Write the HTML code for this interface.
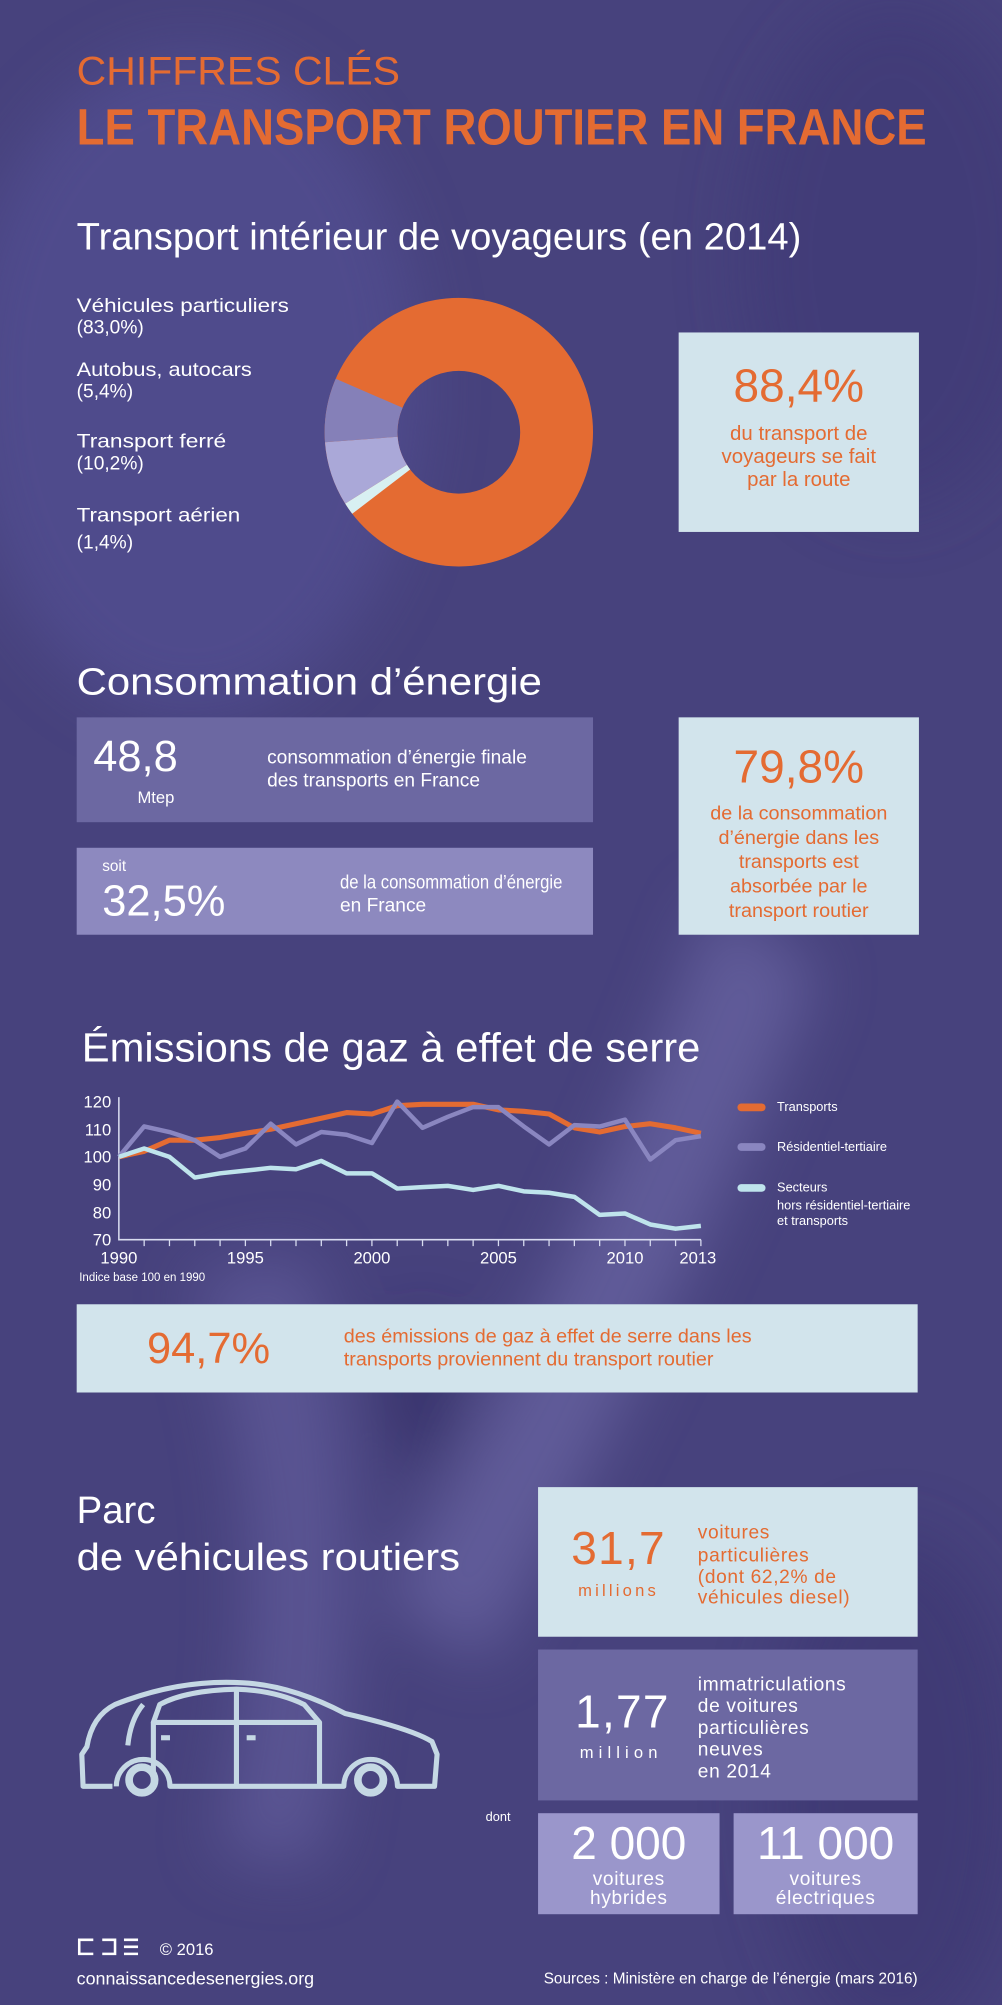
<!DOCTYPE html>
<html><head><meta charset="utf-8"><style>
html,body{margin:0;padding:0;background:#48437e;}
svg{display:block}
text{font-family:"Liberation Sans",sans-serif;}
</style></head><body>
<svg width="1002" height="2005" viewBox="0 0 784 1568" xmlns="http://www.w3.org/2000/svg" preserveAspectRatio="none">
<defs>
<filter id="bl" x="-50%" y="-50%" width="200%" height="200%"><feGaussianBlur stdDeviation="25"/></filter>
</defs>
<rect width="784" height="1568" fill="#47427d"/>
<g filter="url(#bl)" opacity="0.55">
<ellipse cx="150" cy="300" rx="180" ry="260" fill="#57529a"/>
<path d="M560 700 Q450 1000 300 1250 L380 1300 Q520 1050 640 760 Z" fill="#7671b0"/>
<path d="M150 1000 Q230 1200 170 1450 L250 1460 Q300 1200 240 980 Z" fill="#6a65a6"/>
<ellipse cx="330" cy="1090" rx="30" ry="60" fill="#2a255e"/>
<ellipse cx="700" cy="1400" rx="100" ry="200" fill="#3a3570"/>
<ellipse cx="700" cy="200" rx="120" ry="200" fill="#3e3975"/>
</g>

<text x="60" y="66" font-size="31" fill="#e46b32" textLength="253" lengthAdjust="spacingAndGlyphs">CHIFFRES CLÉS</text>
<text x="60" y="113" font-size="40" font-weight="bold" fill="#e46b32" textLength="665" lengthAdjust="spacingAndGlyphs">LE TRANSPORT ROUTIER EN FRANCE</text>

<text x="60" y="195" font-size="30" fill="#fff" textLength="567" lengthAdjust="spacingAndGlyphs">Transport intérieur de voyageurs (en 2014)</text>
<g font-size="15" fill="#fff">
<text x="60" y="244" textLength="166" lengthAdjust="spacingAndGlyphs">Véhicules particuliers</text>
<text x="60" y="261">(83,0%)</text>
<text x="60" y="294" textLength="137" lengthAdjust="spacingAndGlyphs">Autobus, autocars</text>
<text x="60" y="311">(5,4%)</text>
<text x="60" y="350" textLength="117" lengthAdjust="spacingAndGlyphs">Transport ferré</text>
<text x="60" y="367">(10,2%)</text>
<text x="60" y="408" textLength="128" lengthAdjust="spacingAndGlyphs">Transport aérien</text>
<text x="60" y="429">(1,4%)</text>
</g>
<g transform="translate(359,338)">
<circle r="76.5" fill="none" stroke="#e46b32" stroke-width="57"/>
<path d="M-83.4 63.8 A105 105 0 0 1 -88.9 55.9 L-40.6 25.5 A48 48 0 0 0 -38.1 29.2 Z" fill="#d8f0f2"/>
<path d="M-88.9 55.9 A105 105 0 0 1 -104.7 7.9 L-47.9 3.6 A48 48 0 0 0 -40.6 25.5 Z" fill="#aaa8d8"/>
<path d="M-104.7 7.9 A105 105 0 0 1 -96.3 -41.8 L-44.0 -19.1 A48 48 0 0 0 -47.9 3.6 Z" fill="#8580b8"/>
</g>
<rect x="531" y="260" width="188" height="156" fill="#d2e4ec"/>
<text x="625" y="314" font-size="36" fill="#e46b32" text-anchor="middle">88,4%</text>
<g font-size="16" fill="#e46b32" text-anchor="middle">
<text x="625" y="344">du transport de</text>
<text x="625" y="362">voyageurs se fait</text>
<text x="625" y="380">par la route</text>
</g>

<text x="60" y="543" font-size="30" fill="#fff" textLength="364" lengthAdjust="spacingAndGlyphs">Consommation d’énergie</text>
<rect x="60" y="561" width="404" height="82" fill="#6c68a2"/>
<text x="106" y="603" font-size="34" fill="#fff" text-anchor="middle">48,8</text>
<text x="122" y="628" font-size="13" fill="#fff" text-anchor="middle">Mtep</text>
<g font-size="15" fill="#fff">
<text x="209" y="597">consommation d’énergie finale</text>
<text x="209" y="615">des transports en France</text>
</g>
<rect x="60" y="663" width="404" height="68" fill="#8d89bf"/>
<text x="80" y="681" font-size="12" fill="#fff">soit</text>
<text x="80" y="716" font-size="34" fill="#fff">32,5%</text>
<g font-size="15" fill="#fff">
<text x="266" y="695" textLength="174" lengthAdjust="spacingAndGlyphs">de la consommation d’énergie</text>
<text x="266" y="713">en France</text>
</g>
<rect x="531" y="561" width="188" height="170" fill="#d2e4ec"/>
<text x="625" y="612" font-size="36" fill="#e46b32" text-anchor="middle">79,8%</text>
<g font-size="15.5" fill="#e46b32" text-anchor="middle">
<text x="625" y="641">de la consommation</text>
<text x="625" y="660">d’énergie dans les</text>
<text x="625" y="679">transports est</text>
<text x="625" y="698">absorbée par le</text>
<text x="625" y="717">transport routier</text>
</g>

<text x="64" y="830" font-size="32" fill="#fff" textLength="484" lengthAdjust="spacingAndGlyphs">Émissions de gaz à effet de serre</text>
<g font-size="13" fill="#fff" text-anchor="end">
<text x="87" y="866">120</text><text x="87" y="888">110</text><text x="87" y="909">100</text>
<text x="87" y="931">90</text><text x="87" y="953">80</text><text x="87" y="974">70</text>
</g>
<g font-size="13" fill="#fff" text-anchor="middle">
<text x="93" y="988">1990</text><text x="192" y="988">1995</text><text x="291" y="988">2000</text>
<text x="390" y="988">2005</text><text x="489" y="988">2010</text><text x="546" y="988">2013</text>
</g>
<text x="62" y="1002" font-size="9" fill="#fff">Indice base 100 en 1990</text>
<path d="M93 858 V969.5 H548.5" fill="none" stroke="#d8dcf0" stroke-width="1.2"/>
<g stroke="#d8dcf0" stroke-width="1">
<path d="M112.8 969.5v5M132.6 969.5v5M152.4 969.5v5M172.2 969.5v5M192 969.5v5M211.8 969.5v5M231.6 969.5v5M251.4 969.5v5M271.2 969.5v5M291 969.5v5M310.8 969.5v5M330.6 969.5v5M350.4 969.5v5M370.2 969.5v5M390 969.5v5M409.8 969.5v5M429.6 969.5v5M449.4 969.5v5M469.2 969.5v5M489 969.5v5M508.8 969.5v5M528.6 969.5v5M548.4 969.5v5"/>
</g>
<polyline fill="none" stroke="#e46b32" stroke-width="4" stroke-linejoin="round" points="93,904.7 112.8,900.4 132.6,891.7 152.4,891.7 172.2,889.6 192,886.3 211.8,883.1 231.6,878.8 251.4,874.5 271.2,870.1 291,871.2 310.8,864.7 330.6,863.6 350.4,863.6 370.2,863.6 390,868 409.8,869.1 429.6,871.2 449.4,882 469.2,885.3 489,881 508.8,878.8 528.6,882 548.4,886.3"/>
<polyline fill="none" stroke="#8a86c0" stroke-width="3.5" stroke-linejoin="round" points="93,904.7 112.8,880.9 132.6,885.3 152.4,891.7 172.2,904.7 192,898.2 211.8,878.8 231.6,895 251.4,885.3 271.2,887.4 291,893.9 310.8,861.5 330.6,882 350.4,873.4 370.2,865.8 390,865.8 409.8,880.9 429.6,895 449.4,879.9 469.2,881 489,875.6 508.8,906.8 528.6,891.7 548.4,888.5"/>
<polyline fill="none" stroke="#bfe4ec" stroke-width="3.5" stroke-linejoin="round" points="93,904.7 112.8,898.2 132.6,904.7 152.4,920.9 172.2,917.6 192,915.5 211.8,913.3 231.6,914.4 251.4,907.9 271.2,917.6 291,917.6 310.8,929.5 330.6,928.4 350.4,927.4 370.2,930.6 390,927.4 409.8,931.7 429.6,932.8 449.4,936 469.2,950.1 489,949 508.8,957.6 528.6,960.9 548.4,958.7"/>
<g stroke-width="6" stroke-linecap="round">
<line x1="580" y1="866" x2="596" y2="866" stroke="#e46b32"/>
<line x1="580" y1="897" x2="596" y2="897" stroke="#8a86c0"/>
<line x1="580" y1="929" x2="596" y2="929" stroke="#bfe4ec"/>
</g>
<g font-size="10" fill="#fff">
<text x="608" y="869">Transports</text>
<text x="608" y="900">Résidentiel-tertiaire</text>
<text x="608" y="932">Secteurs</text>
<text x="608" y="946">hors résidentiel-tertiaire</text>
<text x="608" y="958">et transports</text>
</g>
<rect x="60" y="1020" width="658" height="69" fill="#d2e4ec"/>
<text x="115" y="1066" font-size="34" fill="#e46b32">94,7%</text>
<g font-size="15.5" fill="#e46b32">
<text x="269" y="1050">des émissions de gaz à effet de serre dans les</text>
<text x="269" y="1068">transports proviennent du transport routier</text>
</g>

<text x="60" y="1191" font-size="30" fill="#fff">Parc</text>
<text x="60" y="1228" font-size="30" fill="#fff" textLength="300" lengthAdjust="spacingAndGlyphs">de véhicules routiers</text>

<rect x="421" y="1163" width="297" height="117" fill="#d2e4ec"/>
<text x="484" y="1223" font-size="36" fill="#e46b32" text-anchor="middle" letter-spacing="1">31,7</text>
<text x="484" y="1248" font-size="13" fill="#e46b32" text-anchor="middle" letter-spacing="2.5">millions</text>
<g font-size="15" fill="#e46b32" letter-spacing="0.5">
<text x="546" y="1203">voitures</text>
<text x="546" y="1221">particulières</text>
<text x="546" y="1238">(dont 62,2% de</text>
<text x="546" y="1254">véhicules diesel)</text>
</g>
<rect x="421" y="1290" width="297" height="118" fill="#6c68a2"/>
<text x="487" y="1351" font-size="36" fill="#fff" text-anchor="middle" letter-spacing="1">1,77</text>
<text x="486" y="1375" font-size="13" fill="#fff" text-anchor="middle" letter-spacing="4">million</text>
<g font-size="15" fill="#fff" letter-spacing="0.5">
<text x="546" y="1322">immatriculations</text>
<text x="546" y="1339">de voitures</text>
<text x="546" y="1356">particulières</text>
<text x="546" y="1373">neuves</text>
<text x="546" y="1390">en 2014</text>
</g>
<text x="380" y="1424" font-size="10" fill="#fff">dont</text>
<rect x="421" y="1418" width="142" height="79" fill="#9a96cb"/>
<rect x="574" y="1418" width="144" height="79" fill="#9a96cb"/>
<g fill="#fff" text-anchor="middle">
<text x="492" y="1454" font-size="36">2 000</text>
<text x="646" y="1454" font-size="36">11 000</text>
<g font-size="15" letter-spacing="0.5">
<text x="492" y="1474">voitures</text><text x="492" y="1489">hybrides</text>
<text x="646" y="1474">voitures</text><text x="646" y="1489">électriques</text>
</g></g>

<!-- car -->
<g fill="none" stroke="#c5d8e4" stroke-width="4" stroke-linejoin="round">
<path d="M88 1397 L65 1397 L64 1372 L68 1366 Q72 1342 90 1333 Q140 1313 190 1316 Q228 1318 270 1340 Q322 1352 338 1362 L342 1372 L340 1397 L311 1397 A21 21 0 0 0 269 1397 L133 1397 A21 21 0 0 0 91 1397"/>
<path d="M120 1347 L250 1347 L238 1333 Q215 1322 185 1321 Q145 1322 125 1333 Z"/>
<path d="M185 1321 V1397 M120 1347 V1397 M250 1347 V1397"/>
<path d="M112 1333 Q102 1345 100 1365"/>
</g>
<circle cx="111" cy="1392" r="10" fill="none" stroke="#c5d8e4" stroke-width="6"/>
<circle cx="290" cy="1392" r="10" fill="none" stroke="#c5d8e4" stroke-width="6"/>
<rect x="126" y="1357" width="7" height="4" fill="#c5d8e4"/>
<rect x="193" y="1357" width="7" height="4" fill="#c5d8e4"/>

<!-- footer -->
<g fill="none" stroke="#fff" stroke-width="2">
<path d="M73 1517 H62 V1528 H73"/>
<path d="M80 1517 H90 V1528 H80"/>
<path d="M97 1517 H108 M97 1522.5 H108 M97 1528 H108"/>
</g>
<text x="125" y="1529" font-size="13" fill="#fff">© 2016</text>
<text x="60" y="1552" font-size="14" fill="#fff">connaissancedesenergies.org</text>
<text x="718" y="1551" font-size="12" fill="#fff" text-anchor="end">Sources : Ministère en charge de l’énergie (mars 2016)</text>
</svg>
</body></html>
